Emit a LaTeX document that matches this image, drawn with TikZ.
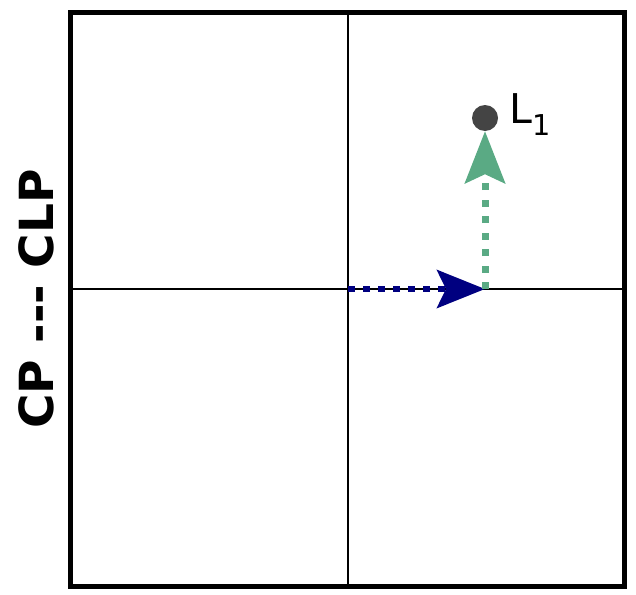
\documentclass[tikz,border=0pt]{standalone}
\usepackage{fontspec}
\setmainfont{DejaVu Sans}
\usetikzlibrary{positioning,arrows.meta}
\definecolor{lgreen}{RGB}{90,170,132}
\definecolor{ldot}{RGB}{68,68,68}
\tikzset{frame/.style={draw,line width=5pt},
  axis/.style={draw,line width=1.8pt},
  dot/.style={circle,fill=ldot,inner sep=0pt,minimum size=26pt},
  bluemove/.style={navy,line width=6pt,dash pattern=on 7pt off 8pt,
    -{Stealth[length=48pt,width=38pt,inset=9pt]}},
  greenmove/.style={lgreen,line width=7pt,dash pattern=on 7pt off 9.5pt,
    -{Stealth[length=52pt,width=40pt,inset=9pt]}}}
\definecolor{navy}{RGB}{0,0,128}

\begin{document}
\begin{tikzpicture}[x=1pt,y=-1pt]
  \useasboundingbox (0,0) rectangle (636,594);
  \coordinate (origin) at (348,289);
  \coordinate (corner) at (485,289);
  \node (L1) [dot] at (485,118) {};
  \node (L1label) [right=11pt of L1,anchor=base west,yshift=-5pt,inner sep=0pt,
    font=\fontsize{41}{48}\selectfont] {L\textsubscript{1}};
  \node (ylabel) [rotate=90,inner sep=0pt,font=\fontsize{47}{56}\selectfont\bfseries]
    at (36,299) {CP -{}-{}- CLP};

  \path[axis] (348,12.5) -- (348,586.5)
              (70.5,289) -- (624.5,289);
  \path[frame] (70.5,12.5) rectangle (624.5,586.5);

  \draw[bluemove] (origin) -- (corner);
  \draw[greenmove] (corner) -- (L1);
\end{tikzpicture}
\end{document}
